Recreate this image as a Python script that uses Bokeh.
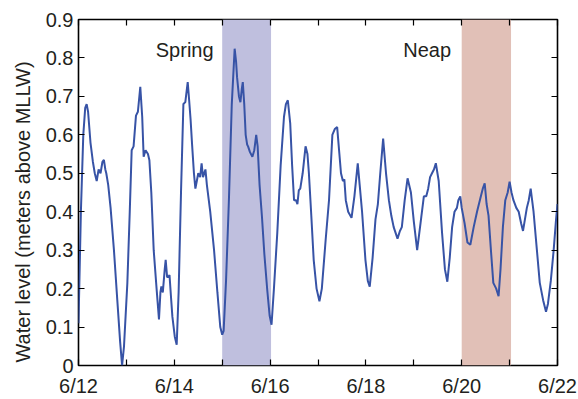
from bokeh.plotting import figure
from bokeh.models import (FixedTicker, LinearAxis, Label, Range1d)
from bokeh.embed import file_html
from bokeh.resources import INLINE

# Day of June (fractional) and water level (m above MLLW)
day = [12.00, 12.05, 12.10, 12.14, 12.17, 12.20, 12.25, 12.30, 12.34, 12.38, 12.42, 12.46, 12.50, 12.53, 12.56,
       12.58, 12.62, 12.67, 12.74, 12.81, 12.87, 12.91, 12.95, 13.02, 13.07, 13.11, 13.15, 13.20, 13.24, 13.29,
       13.33, 13.36, 13.40, 13.45, 13.48, 13.52, 13.57, 13.63, 13.68, 13.71, 13.73, 13.76, 13.80, 13.82, 13.85,
       13.87, 13.90, 13.93, 13.96, 14.01, 14.05, 14.09, 14.14, 14.19, 14.23, 14.28, 14.31, 14.34, 14.37, 14.41,
       14.44, 14.47, 14.50, 14.54, 14.57, 14.60, 14.65, 14.68, 14.75, 14.83, 14.90, 14.96, 15.00, 15.03, 15.08,
       15.14, 15.20, 15.26, 15.29, 15.31, 15.35, 15.38, 15.41, 15.43, 15.46, 15.49, 15.52, 15.54, 15.58, 15.63,
       15.67, 15.71, 15.74, 15.78, 15.83, 15.88, 15.94, 15.99, 16.03, 16.08, 16.15, 16.22, 16.29, 16.33, 16.37,
       16.42, 16.46, 16.50, 16.54, 16.57, 16.60, 16.63, 16.68, 16.74, 16.78, 16.81, 16.86, 16.91, 16.97, 17.03,
       17.08, 17.16, 17.23, 17.30, 17.35, 17.40, 17.44, 17.48, 17.52, 17.55, 17.58, 17.63, 17.70, 17.76, 17.83,
       17.87, 17.92, 17.99, 18.04, 18.08, 18.14, 18.20, 18.25, 18.30, 18.36, 18.42, 18.48, 18.53, 18.58, 18.66,
       18.71, 18.75, 18.81, 18.87, 18.94, 19.00, 19.07, 19.14, 19.21, 19.26, 19.30, 19.34, 19.38, 19.42, 19.46,
       19.52, 19.59, 19.65, 19.70, 19.75, 19.80, 19.85, 19.90, 19.93, 19.97, 20.00, 20.06, 20.12, 20.18, 20.25,
       20.32, 20.40, 20.44, 20.48, 20.52, 20.56, 20.61, 20.66, 20.72, 20.77, 20.81, 20.86, 20.91, 20.96, 21.00,
       21.04, 21.08, 21.14, 21.19, 21.24, 21.28, 21.32, 21.36, 21.40, 21.44, 21.47, 21.50, 21.57, 21.63, 21.70,
       21.76, 21.80, 21.86, 21.92, 21.97, 22.00]
level = [0.11, 0.40, 0.60, 0.67, 0.68, 0.66, 0.58, 0.53, 0.50, 0.48, 0.51, 0.50, 0.53, 0.535, 0.51,
         0.50, 0.47, 0.41, 0.30, 0.17, 0.06, 0.00, 0.05, 0.215, 0.40, 0.56, 0.57, 0.65, 0.66, 0.725,
         0.647, 0.543, 0.56, 0.55, 0.534, 0.45, 0.30, 0.20, 0.12, 0.19, 0.206, 0.19, 0.25, 0.275, 0.23,
         0.23, 0.235, 0.18, 0.127, 0.075, 0.054, 0.19, 0.45, 0.68, 0.685, 0.737, 0.69, 0.64, 0.577, 0.50,
         0.46, 0.48, 0.50, 0.49, 0.526, 0.49, 0.51, 0.47, 0.40, 0.30, 0.19, 0.10, 0.08, 0.09, 0.22,
         0.43, 0.68, 0.824, 0.79, 0.75, 0.70, 0.685, 0.72, 0.737, 0.68, 0.60, 0.575, 0.57, 0.555, 0.543,
         0.56, 0.60, 0.57, 0.47, 0.387, 0.29, 0.197, 0.13, 0.106, 0.20, 0.345, 0.52, 0.647, 0.68, 0.69,
         0.63, 0.52, 0.43, 0.43, 0.42, 0.456, 0.46, 0.50, 0.57, 0.55, 0.50, 0.39, 0.275, 0.20, 0.167,
         0.20, 0.327, 0.43, 0.60, 0.615, 0.62, 0.56, 0.50, 0.48, 0.484, 0.43, 0.40, 0.384, 0.44, 0.526,
         0.47, 0.40, 0.275, 0.22, 0.205, 0.28, 0.38, 0.42, 0.50, 0.59, 0.50, 0.43, 0.39, 0.36, 0.33,
         0.35, 0.36, 0.43, 0.487, 0.45, 0.375, 0.30, 0.37, 0.44, 0.44, 0.46, 0.49, 0.50, 0.51, 0.526,
         0.48, 0.345, 0.25, 0.218, 0.28, 0.36, 0.40, 0.41, 0.43, 0.44, 0.41, 0.37, 0.32, 0.314, 0.36,
         0.40, 0.44, 0.46, 0.474, 0.42, 0.39, 0.30, 0.215, 0.20, 0.18, 0.25, 0.36, 0.43, 0.45, 0.478,
         0.45, 0.43, 0.41, 0.40, 0.37, 0.35, 0.38, 0.41, 0.43, 0.46, 0.43, 0.40, 0.30, 0.215, 0.17,
         0.14, 0.16, 0.22, 0.30, 0.38, 0.42]

# Shaded windows (day of June)
window_names = ["Spring", "Neap"]
window_start = [15.0, 20.0]
window_end = [16.02, 21.03]
window_colors = ["#bfbfde", "#e1c0b7"]

x_major = [12, 14, 16, 18, 20, 22]
x_minor = [13, 15, 17, 19, 21]
x_labels = ["6/12", "6/14", "6/16", "6/18", "6/20", "6/22"]
y_ticks = [0, 0.1, 0.2, 0.3, 0.4, 0.5, 0.6, 0.7, 0.8, 0.9]
y_labels = ["0", "0.1", "0.2", "0.3", "0.4", "0.5", "0.6", "0.7", "0.8", "0.9"]

FONT = "Liberation Sans"
TXT = "#231f20"

p = figure(width=578, height=399, output_backend="svg", toolbar_location=None,
           x_range=Range1d(12, 22), y_range=Range1d(0, 0.9),
           min_border_left=78, min_border_right=21, min_border_top=19, min_border_bottom=33,
           x_axis_location=None, y_axis_location=None)
p.grid.visible = False
p.outline_line_color = "black"
p.outline_line_width = 1.6
p.background_fill_color = "white"
p.border_fill_color = "white"

p.quad(left=window_start, right=window_end, bottom=0, top=0.9, fill_color=window_colors,
       line_color=None)
p.line(day, level, line_color="#3753a6", line_width=2)

def make_axis(kind, loc):
    if kind == "x":
        ax = LinearAxis(ticker=FixedTicker(ticks=x_major, minor_ticks=x_minor))
        labels = x_labels
        ticks = x_major
    else:
        ax = LinearAxis(ticker=FixedTicker(ticks=y_ticks))
        labels = y_labels
        ticks = y_ticks
    if loc in ("above", "right"):
        labels = ["" for _ in ticks]
        ax.major_label_standoff = 0
    ax.major_label_overrides = {t: l for t, l in zip(ticks, labels)}
    ax.axis_line_color = None
    ax.major_tick_in = 6
    ax.major_tick_out = 0
    ax.minor_tick_in = 6
    ax.minor_tick_out = 0
    ax.major_tick_line_color = "black"
    ax.minor_tick_line_color = "black"
    ax.major_tick_line_width = 1.2
    ax.minor_tick_line_width = 1.2
    ax.major_label_text_font = FONT
    ax.major_label_text_font_size = "20px"
    ax.major_label_text_color = TXT
    p.add_layout(ax, loc)
    return ax

xb = make_axis("x", "below")
xb.major_label_standoff = 9
yl = make_axis("y", "left")
yl.major_label_standoff = 5
# trailing no-break spaces nudge the title slightly below the frame centre, as in the reference
yl.axis_label = "Water level (meters above MLLW)" + "\u00a0" * 7
yl.axis_label_text_font = FONT
yl.axis_label_text_font_size = "20px"
yl.axis_label_text_font_style = "normal"
yl.axis_label_text_color = TXT
yl.axis_label_standoff = 9
make_axis("x", "above")
make_axis("y", "right")

p.add_layout(Label(x=14.82, y=0.82, text="Spring", text_align="right", text_baseline="middle",
                   text_font=FONT, text_font_size="20px", text_color=TXT))
p.add_layout(Label(x=18.78, y=0.82, text="Neap", text_align="left", text_baseline="middle",
                   text_font=FONT, text_font_size="20px", text_color=TXT))

open("out.html", "w").write(file_html(p, INLINE))
